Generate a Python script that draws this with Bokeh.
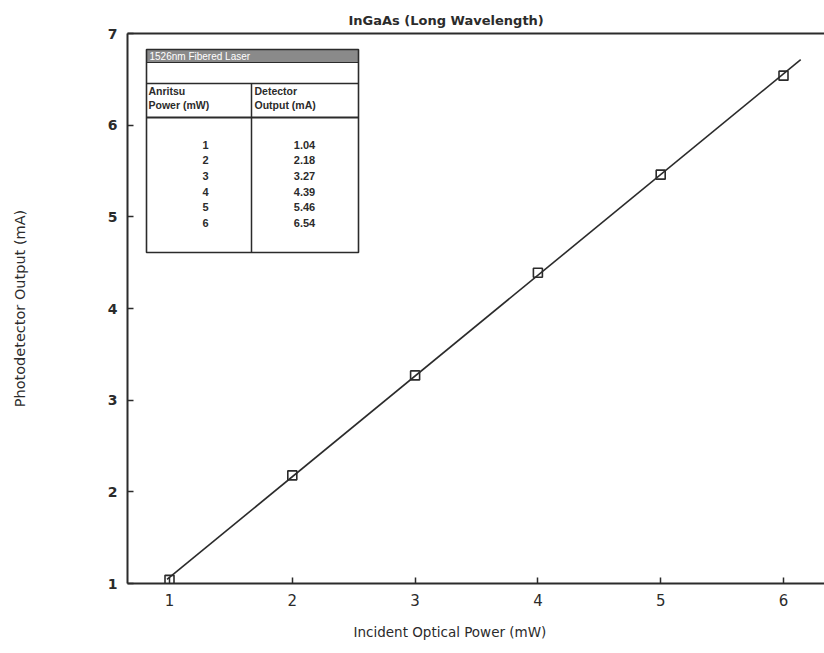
import numpy as np
from bokeh.plotting import figure
from bokeh.models import Range1d, FixedTicker, LinearAxis, Label, Title
from bokeh.core.properties import value
from bokeh.embed import file_html
from bokeh.resources import INLINE

# ---- data ----
power_mw = [1, 2, 3, 4, 5, 6]
output_ma = [1.04, 2.18, 3.27, 4.39, 5.46, 6.54]
power_labels = ["1", "2", "3", "4", "5", "6"]
output_labels = ["1.04", "2.18", "3.27", "4.39", "5.46", "6.54"]
x_ticks = [1, 2, 3, 4, 5, 6]
y_ticks = [1, 2, 3, 4, 5, 6, 7]
title_text = "InGaAs (Long Wavelength)"
x_label = "Incident Optical Power (mW)"
y_label = "Photodetector Output (mA)"
table_title = "1526nm Fibered Laser"
table_head_1 = ["Anritsu", "Power (mW)"]
table_head_2 = ["Detector", "Output (mA)"]

# ---- pixel -> data helpers (layout only) ----
X0, XS = 169.0, 122.8
Y0, YS = 583.0, 91.67


def X(px):
    return 1 + (px - X0) / XS


def Y(py):
    return 1 + (Y0 - py) / YS


INK = "#2b2b2b"

p = figure(width=824, height=653, output_backend="svg", toolbar_location=None,
           x_range=Range1d(X(127), X(824)), y_range=Range1d(1, 7),
           min_border_left=127, min_border_right=0, min_border_top=33,
           min_border_bottom=70)
p.outline_line_color = None
p.grid.visible = False
p.background_fill_color = "white"
p.border_fill_color = "white"

# title
p.title.text = title_text
p.title.align = "left"
p.title.offset = 221
p.title.standoff = 12
p.title.text_font = "DejaVu Sans"
p.title.text_font_style = "bold"
p.title.text_font_size = "13px"
p.title.text_color = INK

# axes
for ax in (p.xaxis[0], p.yaxis[0]):
    ax.axis_line_color = INK
    ax.axis_line_width = 2
    ax.major_tick_in = 6
    ax.major_tick_out = 0
    ax.major_tick_line_color = INK
    ax.major_tick_line_width = 1.5
    ax.minor_tick_line_color = None
    ax.major_label_text_color = INK

p.xaxis[0].ticker = FixedTicker(ticks=x_ticks)
p.xaxis[0].major_label_text_font = "DejaVu Sans"
p.xaxis[0].major_label_text_font_size = "15px"
p.xaxis[0].major_label_standoff = 10

p.yaxis[0].ticker = FixedTicker(ticks=y_ticks)
p.yaxis[0].major_label_text_font = "DejaVu Sans"
p.yaxis[0].major_label_text_font_style = "bold"
p.yaxis[0].major_label_text_font_size = "14px"
p.yaxis[0].major_label_standoff = 10
p.yaxis[0].axis_label = y_label
p.yaxis[0].axis_label_text_font = "DejaVu Sans"
p.yaxis[0].axis_label_text_font_style = "normal"
p.yaxis[0].axis_label_text_font_size = "14.5px"
p.yaxis[0].axis_label_text_color = INK
p.yaxis[0].axis_label_standoff = 77

top_ax = LinearAxis(ticker=FixedTicker(ticks=[]), axis_line_color=INK,
                    axis_line_width=2, major_tick_line_color=None,
                    minor_tick_line_color=None, major_label_text_font_size="0px")
p.add_layout(top_ax, "above")

# x axis label as a left-offset title below the axis
xl = Title(text=x_label, align="left", offset=226, standoff=27,
           text_font="DejaVu Sans", text_font_style="normal",
           text_font_size="13.5px", text_color=INK)
p.add_layout(xl, "below")

# fit line from data
slope, intercept = np.polyfit(power_mw, output_ma, 1)
fx = np.array([0.98, 6.14])
p.line(fx, slope * fx + intercept, line_color=INK, line_width=1.6)

# data points
p.scatter(power_mw, output_ma, marker="square", size=9, fill_color=None,
          line_color=INK, line_width=1.6)

# ---- inset table ----
L, R, T, B = 146, 358, 49, 252
DIV = 251
p.quad(left=[X(L)], right=[X(R)], top=[Y(T)], bottom=[Y(62)],
       fill_color="#8a8a8a", line_color=None)
p.quad(left=[X(L)], right=[X(R)], top=[Y(T)], bottom=[Y(B)],
       fill_color=None, line_color=INK, line_width=1.6)
p.segment(x0=[X(L)], x1=[X(R)], y0=[Y(62)], y1=[Y(62)], line_color=INK, line_width=1.2)
p.segment(x0=[X(L)], x1=[X(R)], y0=[Y(83)], y1=[Y(83)], line_color=INK, line_width=1.5)
p.segment(x0=[X(L)], x1=[X(R)], y0=[Y(117)], y1=[Y(117)], line_color=INK, line_width=2)
p.segment(x0=[X(DIV)], x1=[X(DIV)], y0=[Y(83)], y1=[Y(B)], line_color=INK, line_width=1.5)

p.add_layout(Label(x=X(L + 3), y=Y(55.5), text=table_title, text_align="left",
                   text_baseline="middle", text_font="Liberation Sans",
                   text_font_size="10px", text_color="white"))
for i, t in enumerate(table_head_1):
    p.add_layout(Label(x=X(L + 2), y=Y(90 + i * 14), text=t, text_align="left",
                       text_baseline="middle", text_font="Liberation Sans",
                       text_font_style="bold", text_font_size="10.5px", text_color=INK))
for i, t in enumerate(table_head_2):
    p.add_layout(Label(x=X(DIV + 3), y=Y(90 + i * 14), text=t, text_align="left",
                       text_baseline="middle", text_font="Liberation Sans",
                       text_font_style="bold", text_font_size="10.5px", text_color=INK))

row_y = [Y(144 + i * 15.7) for i in range(len(power_labels))]
p.text(x=[X(205)] * len(power_labels), y=row_y, text=power_labels,
       text_align="center", text_baseline="middle", text_font=value("Liberation Sans"),
       text_font_style="bold", text_font_size="11px", text_color=INK)
p.text(x=[X(304)] * len(output_labels), y=row_y, text=output_labels,
       text_align="center", text_baseline="middle", text_font=value("Liberation Sans"),
       text_font_style="bold", text_font_size="11px", text_color=INK)

open("out.html", "w").write(file_html(p, INLINE))
